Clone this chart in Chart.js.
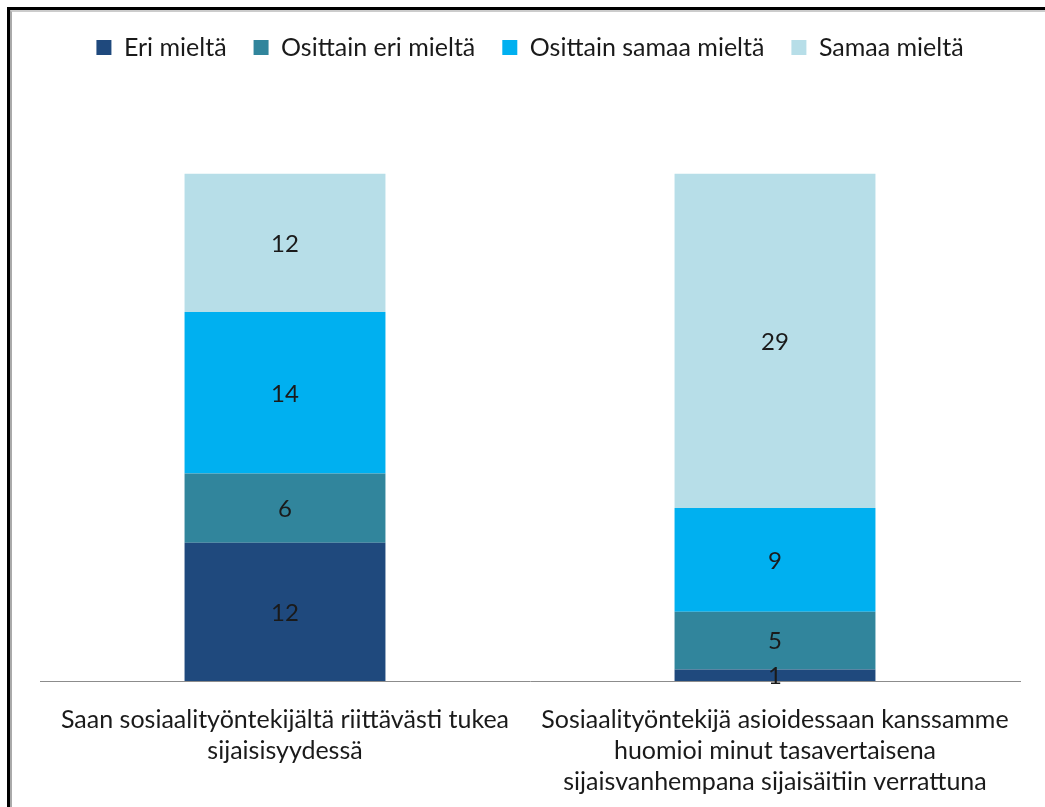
<!DOCTYPE html>
<html>
<head>
<meta charset="utf-8">
<script src="https://cdn.jsdelivr.net/npm/chart.js@4/dist/chart.umd.min.js"></script>
<style>
  html, body { margin:0; padding:0; background:#fff; }
  #wrap { position:relative; width:1045px; height:807px; overflow:hidden; background:#fff; }
  #frame { position:absolute; left:7px; top:7px; width:1100px; height:900px; border-left:3px solid #000; border-top:3px solid #000; }
  #inner { position:absolute; left:10px; top:10px; width:1100px; height:900px; border-left:2px solid #aaa; border-top:2px solid #ccc; }
  canvas { position:absolute; left:0; top:0; }
</style>
</head>
<body>
<div id="wrap">
  <canvas id="c" width="1045" height="807"></canvas>
  <div id="frame"></div>
  <div id="inner"></div>
</div>
<script>
const categories = [
  ["Saan sosiaalityöntekijältä riittävästi tukea", "sijaisisyydessä"],
  ["Sosiaalityöntekijä asioidessaan kanssamme", "huomioi minut tasavertaisena", "sijaisvanhempana sijaisäitiin verrattuna"]
];
const seriesNames = ["Eri mieltä", "Osittain eri mieltä", "Osittain samaa mieltä", "Samaa mieltä"];
const eriMielta = [12, 1];
const osittainEri = [6, 5];
const osittainSamaa = [14, 9];
const samaaMielta = [12, 29];
const seriesColors = ["#1F497D", "#31859C", "#00B0F0", "#B7DEE8"];

const FONT = "Lato";

const labelPlugin = {
  id: 'segLabels',
  afterDatasetsDraw(chart) {
    const ctx = chart.ctx;
    ctx.save();
    ctx.font = "24px " + FONT;
    ctx.fillStyle = "#1a1a1a";
    ctx.textAlign = "center";
    ctx.textBaseline = "middle";
    chart.data.datasets.forEach((ds, di) => {
      const meta = chart.getDatasetMeta(di);
      meta.data.forEach((el, i) => {
        const v = ds.data[i];
        const cy = (el.y + el.base) / 2;
        ctx.fillText(String(v), el.x, cy + 1);
      });
    });
    ctx.restore();
  }
};

const bg = {
  id: 'bg',
  beforeDraw(chart) {
    const c = chart.ctx;
    c.save(); c.fillStyle = '#fff'; c.fillRect(0,0,chart.width,chart.height); c.restore();
  }
};

const dataSets = [eriMielta, osittainEri, osittainSamaa, samaaMielta];

new Chart(document.getElementById('c'), {
  type: 'bar',
  data: {
    labels: categories,
    datasets: dataSets.map((d, i) => ({
      label: seriesNames[i],
      data: d,
      backgroundColor: seriesColors[i],
      borderWidth: 0,
      categoryPercentage: 0.82,
      barPercentage: 0.5
    }))
  },
  options: {
    responsive: false,
    animation: false,
    devicePixelRatio: 1,
    layout: { padding: { left: 40, right: 25, top: 8, bottom: 0 } },
    plugins: {
      tooltip: { enabled: false },
      legend: {
        position: 'top',
        labels: {
          font: { family: FONT, size: 25 },
          color: '#1a1a1a',
          boxWidth: 15,
          boxHeight: 15,
          padding: 27
        }
      }
    },
    scales: {
      x: {
        stacked: true,
        grid: { display: false },
        border: { display: true, color: '#8c8c8c', width: 1 },
        ticks: {
          color: '#1a1a1a',
          font: { family: FONT, size: 25, lineHeight: 1.24 },
          padding: 15,
          maxRotation: 0,
          autoSkip: false
        },
        afterFit(scale) { scale.height = 126; }
      },
      y: {
        stacked: true,
        display: false,
        min: 0,
        max: 53
      }
    }
  },
  plugins: [bg, labelPlugin]
});
</script>
</body>
</html>
